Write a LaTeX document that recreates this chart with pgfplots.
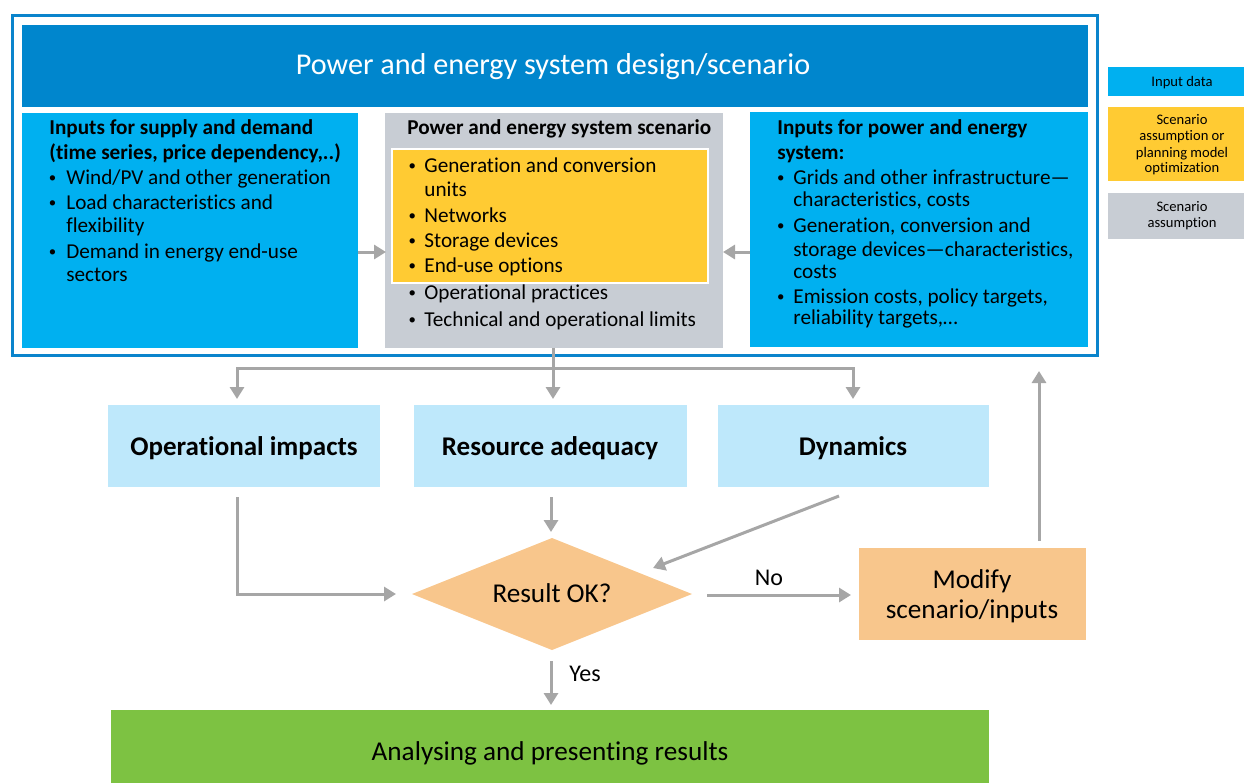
\documentclass[border=0pt]{standalone}
\usepackage{pgfplots}
\pgfplotsset{compat=1.18}
\usepackage{fontspec}
\setmainfont{Carlito}[Ligatures=NoCommon]
\usetikzlibrary{arrows.meta}
\definecolor{frameblue}{HTML}{0A84CC}
\definecolor{titleblue}{HTML}{0086CD}
\definecolor{cyanbox}{HTML}{00B0F0}
\definecolor{graybox}{HTML}{C8CDD4}
\definecolor{yellowbox}{HTML}{FFCB33}
\definecolor{lightblue}{HTML}{BEE8FB}
\definecolor{peach}{HTML}{F8C68C}
\definecolor{greenbox}{HTML}{7DC242}
\definecolor{arrowgray}{HTML}{A6A6A6}
\newcommand{\fa}{\fontsize{10.6}{12.5}\selectfont}
\newcommand{\fl}{\fontsize{7.3}{8.5}\selectfont}
\newcommand{\fb}{\fontsize{13.6}{16}\selectfont}
\newcommand{\T}[4][]{\node[anchor=base west,inner sep=0pt,font=\fa,#1] at (axis cs:#2,#3) {#4};}
\newcommand{\C}[4][]{\node[anchor=base,inner sep=0pt,#1] at (axis cs:#2,#3) {#4};}
\newcommand{\B}[2]{\node[anchor=center,inner sep=0pt,font=\fa] at (axis cs:#1,#2-5.5) {\scalebox{0.7}{\textbullet}};}
\begin{document}
\begin{tikzpicture}
\begin{axis}[width=622pt,height=391.5pt,scale only axis,
  xmin=0,xmax=1244,ymin=0,ymax=783,y dir=reverse,hide axis,clip=false]
\addplot[draw=none] coordinates {(0,0) (1244,783)};
\path (rel axis cs:0,0) rectangle (rel axis cs:1,1);
% top frame
\draw[frameblue,line width=1.5pt] (12.5,15.5) rectangle (1097.5,355);
\fill[titleblue] (22,25) rectangle (1088,107);
\fill[cyanbox] (22,113) rectangle (358,348);
\fill[graybox] (385,113) rectangle (723,348);
\filldraw[fill=yellowbox,draw=white,line width=1pt] (392,149) rectangle (708,283);
\fill[cyanbox] (750,112) rectangle (1088,347);
% legend
\fill[cyanbox] (1108,67) rectangle (1244,96);
\fill[yellowbox] (1108,107) rectangle (1244,181);
\fill[graybox] (1108,193) rectangle (1244,239);
% arrows style
\tikzset{ga/.style={arrowgray,line width=1.5pt,-{Triangle[width=7pt,length=6pt]}},
         gl/.style={arrowgray,line width=1.5pt}}
\draw[ga] (358,252) -- (386,252);
\draw[ga] (750,252) -- (723,252);
% lower connectors
\draw[gl] (553,348) -- (553,368);
\draw[gl] (237,368) -- (853,368);
\draw[ga] (237,367) -- (237,399);
\draw[ga] (553,368) -- (553,399);
\draw[ga] (853,367) -- (853,399);
% boxes
\fill[lightblue] (108,405) rectangle (380,487);
\fill[lightblue] (414,405) rectangle (687,487);
\fill[lightblue] (718,405) rectangle (989,487);
\fill[peach] (412,594) -- (552,538) -- (692,594) -- (552,650) -- cycle;
\fill[peach] (859,548) rectangle (1086,640);
\fill[greenbox] (111,710) rectangle (989,783);
% arrows lower
\draw[ga] (237,497) -- (237,594) -- (396,594);
\draw[ga] (551,497) -- (551,532);
\draw[ga] (839,496) -- (653,568);
\draw[ga] (707,595) -- (851,595);
\draw[ga] (1039,541) -- (1039,371);
\draw[ga] (551,661) -- (551,705);
% title
\C[font=\fontsize{15.1}{17}\selectfont,text=white]{553}{74.5}{Power and energy system design/scenario}
% left box
\T{49}{134.5}{\bfseries Inputs for supply and demand}
\T{49}{159.5}{\bfseries (time series, price dependency,..)}
\B{52.5}{184.5}\T{66}{184.5}{Wind/PV and other generation}
\B{52.5}{209.5}\T{66}{209.5}{Load characteristics and}
\T{66}{232.5}{flexibility}
\B{52.5}{258.5}\T{66}{258.5}{Demand in energy end-use}
\T{66}{281.5}{sectors}
% middle box
\T{407}{134.5}{\bfseries Power and energy system scenario}
\B{412.3}{172.5}\T{424}{172.5}{Generation and conversion}
\T{424}{196.5}{units}
\B{412.3}{222.5}\T{424}{222.5}{Networks}
\B{412.3}{247.5}\T{424}{247.5}{Storage devices}
\B{412.3}{272.5}\T{424}{272.5}{End-use options}
\B{412.3}{299.5}\T{424}{299.5}{Operational practices}
\B{412.3}{326.5}\T{424}{326.5}{Technical and operational limits}
% right box
\T{777}{134.5}{\bfseries Inputs for power and energy}
\T{777}{159.5}{\bfseries system:}
\B{780.7}{184.5}\T{793}{184.5}{Grids and other infrastructure—}
\T{793}{206.5}{characteristics, costs}
\B{780.7}{232.5}\T{793}{232.5}{Generation, conversion and}
\T{793}{256.5}{storage devices—characteristics,}
\T{793}{278.5}{costs}
\B{780.7}{303.5}\T{793}{303.5}{Emission costs, policy targets,}
\T{793}{324.5}{reliability targets,…}
% legend text
\C[font=\fl]{1182}{86.5}{Input data}
\C[font=\fl]{1182}{124.5}{Scenario}
\C[font=\fl]{1182}{140.5}{assumption or}
\C[font=\fl]{1182}{157.5}{planning model}
\C[font=\fl]{1182}{172.5}{optimization}
\C[font=\fl]{1182}{211.5}{Scenario}
\C[font=\fl]{1182}{227.5}{assumption}
% lower texts
\C[font=\fontsize{13.5}{15}\selectfont\bfseries]{244}{455.5}{Operational impacts}
\C[font=\fontsize{13.5}{15}\selectfont\bfseries]{550}{455.5}{Resource adequacy}
\C[font=\fontsize{13.5}{15}\selectfont\bfseries]{853}{455.5}{Dynamics}
\C[font=\fb]{552}{602.5}{Result OK?}
\C[font=\fb]{972}{588.5}{Modify}
\C[font=\fb]{972}{618.5}{scenario/inputs}
\C[font=\fontsize{12}{14}\selectfont]{769}{585}{No}
\T[font=\fontsize{12}{14}\selectfont]{569}{681}{Yes}
\C[font=\fb]{550}{760.5}{Analysing and presenting results}
\end{axis}
\end{tikzpicture}
\end{document}
